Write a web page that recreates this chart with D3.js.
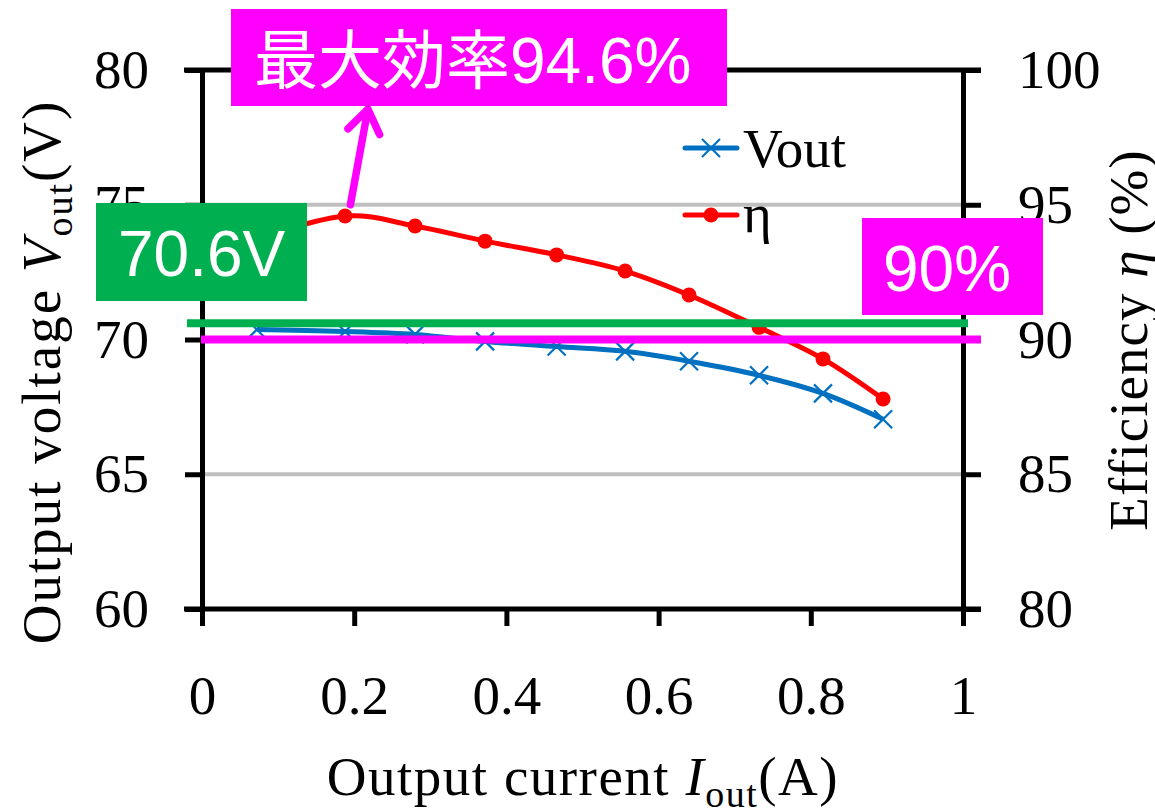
<!DOCTYPE html>
<html>
<head>
<meta charset="utf-8">
<title>Vout / efficiency</title>
<style>
  body { margin: 0; background: #fff; }
  svg { display: block; }
</style>
</head>
<body>
<svg width="1155" height="809"></svg>
<script src="https://cdn.jsdelivr.net/npm/d3@7/dist/d3.min.js"></script>
<script>
// data
var currents = [0.072, 0.188, 0.280, 0.372, 0.466, 0.556, 0.640, 0.732, 0.816, 0.895];
var vout = [70.37, 70.30, 70.19, 69.93, 69.74, 69.56, 69.19, 68.67, 68.00, 67.04];
var eta = [93.75, 94.58, 94.21, 93.65, 93.14, 92.54, 91.65, 90.45, 89.28, 87.79];

var xTicks = [0, 0.2, 0.4, 0.6, 0.8, 1];
var yLeftTicks = [60, 65, 70, 75, 80];
var yRightTicks = [80, 85, 90, 95, 100];
var gridValues = [65, 70, 75];

var voutRef = 70.6;   // green line (left axis)
var etaRef = 90;      // magenta line (right axis)
var etaMax = 94.6;

var serif = "'Liberation Serif', 'Times New Roman', 'DejaVu Serif', serif";
var sans = "'Liberation Sans', Arial, 'Noto Sans CJK JP', sans-serif";

var svg = d3.select("svg");
var plotL = 202, plotR = 963, plotT = 70, plotB = 609;

var x = d3.scaleLinear().domain([0, 1]).range([plotL, plotR]);
var yL = d3.scaleLinear().domain([60, 80]).range([plotB, plotT]);
var yR = d3.scaleLinear().domain([80, 100]).range([plotB, plotT]);

var blue = "#0070C0", red = "#FF0000", green = "#00B050", magenta = "#FF00FF";

// gridlines
svg.append("g").selectAll("line")
  .data(gridValues).enter().append("line")
  .attr("x1", plotL).attr("x2", plotR)
  .attr("y1", function(d){ return yL(d); })
  .attr("y2", function(d){ return yL(d); })
  .attr("stroke", "#BFBFBF").attr("stroke-width", 4);

// axes
function styleAxis(g) {
  g.selectAll("path.domain").attr("stroke", "#000").attr("stroke-width", 5);
  g.selectAll(".tick line").attr("stroke", "#000").attr("stroke-width", 5);
  g.selectAll(".tick text").attr("fill", "#000");
  g.attr("font-family", serif).attr("font-size", 55);
}

var fmtX = function(d){ return d === 0 || d === 1 ? String(d) : d3.format(".1f")(d); };

svg.append("g")
  .attr("transform", "translate(0," + plotB + ")")
  .call(d3.axisBottom(x).tickValues(xTicks).tickFormat(fmtX).tickSize(17).tickPadding(49).tickSizeOuter(0))
  .call(styleAxis)
  .call(function(g){ g.select("path.domain").remove(); });

svg.append("g")
  .attr("transform", "translate(" + plotL + ",0)")
  .call(d3.axisLeft(yL).tickValues(yLeftTicks).tickSize(17).tickPadding(36).tickSizeOuter(0))
  .call(styleAxis);

svg.append("g")
  .attr("transform", "translate(" + plotR + ",0)")
  .call(d3.axisRight(yR).tickValues(yRightTicks).tickSize(18).tickPadding(37).tickSizeOuter(0))
  .call(styleAxis);

// top and bottom frame lines
[plotT, plotB].forEach(function(yy){
  svg.append("line")
    .attr("x1", plotL - 18).attr("x2", plotR + 18)
    .attr("y1", yy).attr("y2", yy)
    .attr("stroke", "#000").attr("stroke-width", 5);
});

// series
var voutPts = currents.map(function(c, i){ return [c, vout[i]]; });
var etaPts = currents.map(function(c, i){ return [c, eta[i]]; });

var lineL = d3.line().x(function(d){ return x(d[0]); }).y(function(d){ return yL(d[1]); })
  .curve(d3.curveCardinal.tension(0));
var lineR = d3.line().x(function(d){ return x(d[0]); }).y(function(d){ return yR(d[1]); })
  .curve(d3.curveCardinal.tension(0));

svg.append("path").datum(voutPts).attr("d", lineL)
  .attr("fill", "none").attr("stroke", blue).attr("stroke-width", 5);
svg.append("path").datum(etaPts).attr("d", lineR)
  .attr("fill", "none").attr("stroke", red).attr("stroke-width", 5);

function crossMark(sel, size) {
  sel.append("line").attr("x1", -size).attr("y1", -size).attr("x2", size).attr("y2", size);
  sel.append("line").attr("x1", -size).attr("y1", size).attr("x2", size).attr("y2", -size);
}

var crosses = svg.append("g").selectAll("g")
  .data(voutPts).enter().append("g")
  .attr("transform", function(d){ return "translate(" + x(d[0]) + "," + yL(d[1]) + ")"; })
  .attr("stroke", blue).attr("stroke-width", 2.2);
crossMark(crosses, 9);

svg.append("g").selectAll("circle")
  .data(etaPts).enter().append("circle")
  .attr("cx", function(d){ return x(d[0]); })
  .attr("cy", function(d){ return yR(d[1]); })
  .attr("r", 7.5).attr("fill", red);

// legend
var legend = svg.append("g").attr("font-family", serif).attr("font-size", 55);
legend.append("line").attr("x1", 685).attr("x2", 737).attr("y1", 148).attr("y2", 148)
  .attr("stroke", blue).attr("stroke-width", 5).attr("stroke-linecap", "round");
var lc = legend.append("g").attr("transform", "translate(711,148)")
  .attr("stroke", blue).attr("stroke-width", 2.2);
crossMark(lc, 9);
legend.append("text").attr("x", 743).attr("y", 167).text("Vout");

legend.append("line").attr("x1", 685).attr("x2", 737).attr("y1", 215).attr("y2", 215)
  .attr("stroke", red).attr("stroke-width", 5).attr("stroke-linecap", "round");
legend.append("circle").attr("cx", 711).attr("cy", 215).attr("r", 7.5).attr("fill", red);
legend.append("text").attr("x", 743).attr("y", 232).text("η");

// reference lines
svg.append("line")
  .attr("x1", plotL - 15).attr("x2", plotR + 5)
  .attr("y1", yL(voutRef)).attr("y2", yL(voutRef))
  .attr("stroke", green).attr("stroke-width", 8);
svg.append("line")
  .attr("x1", plotL - 1).attr("x2", plotR + 18)
  .attr("y1", yR(etaRef)).attr("y2", yR(etaRef))
  .attr("stroke", magenta).attr("stroke-width", 8);

// callout boxes
function box(x0, y0, w, h, fill, padX, base) {
  var g = svg.append("g");
  g.append("rect").attr("x", x0).attr("y", y0).attr("width", w).attr("height", h).attr("fill", fill);
  return g.append("text").attr("x", x0 + padX).attr("y", y0 + h / 2 + base)
    .attr("fill", "#fff").attr("font-family", sans).attr("font-size", 64);
}

box(96, 203, 211, 98, green, 22, 24).text(voutRef + "V");
box(862, 218, 181, 97, magenta, 21, 24).text(etaRef + "%");

// arrow to the efficiency peak
var tail = [x(0.195), yL(75)], tip = [x(0.218), yL(78.55)];
var ang = Math.atan2(tail[1] - tip[1], tail[0] - tip[0]);
var wing = 28, spread = 35 * Math.PI / 180;
var w1 = [tip[0] + wing * Math.cos(ang + spread), tip[1] + wing * Math.sin(ang + spread)];
var w2 = [tip[0] + wing * Math.cos(ang - spread), tip[1] + wing * Math.sin(ang - spread)];
svg.append("path")
  .attr("d", "M" + tail + "L" + tip + "M" + w1 + "L" + tip + "L" + w2)
  .attr("fill", "none").attr("stroke", magenta).attr("stroke-width", 7.5)
  .attr("stroke-linecap", "round").attr("stroke-linejoin", "round");

var topText = box(231, 9, 496, 97, magenta, 23, 25);
topText.append("tspan").attr("font-family", "'Noto Sans CJK JP', sans-serif").text("最大効率");
topText.append("tspan").text(etaMax + "%");

// axis titles
var tL = svg.append("text")
  .attr("transform", "translate(60,372) rotate(-90)")
  .attr("text-anchor", "middle").attr("font-family", serif).attr("font-size", 55)
  .attr("letter-spacing", 2);
tL.append("tspan").text("Output voltage ");
tL.append("tspan").attr("font-style", "italic").text("V");
tL.append("tspan").attr("font-size", 38).attr("dy", 12).text("out");
tL.append("tspan").attr("dy", -12).text("(V)");

var tR = svg.append("text")
  .attr("transform", "translate(1147,340) rotate(-90)")
  .attr("text-anchor", "middle").attr("font-family", serif).attr("font-size", 55)
  .attr("letter-spacing", 1);
tR.append("tspan").text("Efficiency ");
tR.append("tspan").attr("font-style", "italic").text("η");
tR.append("tspan").text(" (%)");

var tX = svg.append("text")
  .attr("x", 583).attr("y", 795)
  .attr("text-anchor", "middle").attr("font-family", serif).attr("font-size", 55)
  .attr("letter-spacing", 1.5);
tX.append("tspan").text("Output current ");
tX.append("tspan").attr("font-style", "italic").text("I");
tX.append("tspan").attr("font-size", 38).attr("dy", 12).text("out");
tX.append("tspan").attr("dy", -12).text("(A)");
</script>
</body>
</html>
